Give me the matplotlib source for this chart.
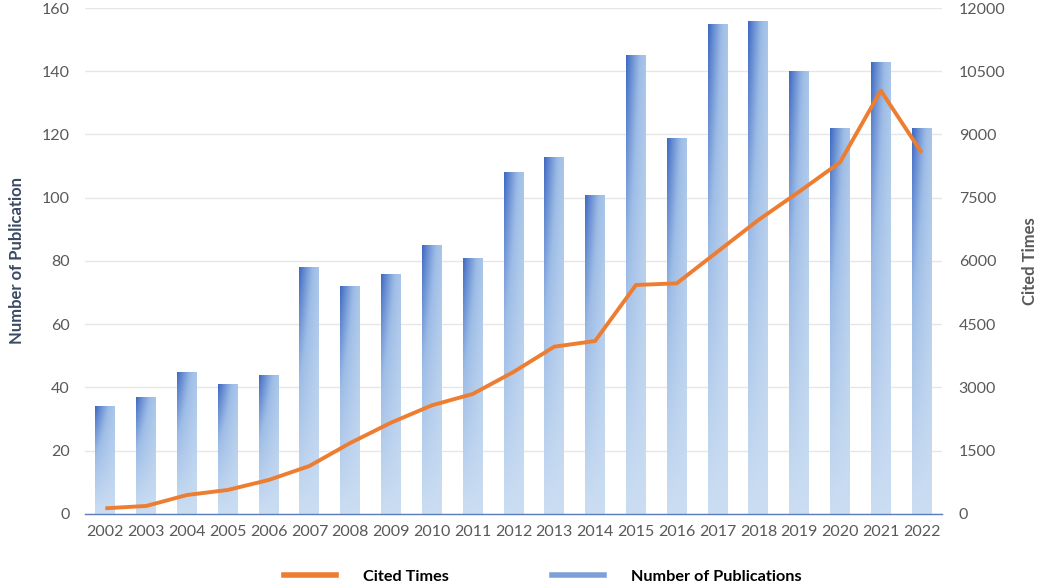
import numpy as np
import matplotlib.pyplot as plt
from matplotlib.lines import Line2D
from matplotlib.colors import LinearSegmentedColormap

plt.rcParams['font.family'] = ['Lato', 'DejaVu Sans']

# Daten
years = [str(y) for y in range(2002, 2023)]
publications = [34, 37, 45, 41, 44, 78, 72, 76, 85, 81, 108, 113, 101,
                145, 119, 155, 156, 140, 122, 143, 122]
cited = [135, 190, 450, 570, 806, 1138, 1684, 2166, 2577, 2846, 3368, 3968,
         4103, 5431, 5470, 6221, 6972, 7644, 8340, 10040, 8570]

left_ticks = list(range(0, 161, 20))
right_ticks = list(range(0, 12001, 1500))

fig = plt.figure(figsize=(10.4, 5.84), dpi=100)
ax = fig.add_axes([0.0817, 0.1199, 0.8241, 0.8664])
ax2 = ax.twinx()

x = np.arange(len(years))
bars = ax.bar(x, publications, width=0.49, color='none', edgecolor='none', zorder=2)

# Farbverlauf fuer jeden Balken (oben links dunkel, unten hell)
cmap = LinearSegmentedColormap.from_list('blu', ['#CADDF2', '#9DBCE6', '#3D68C2'])
nx, ny = 40, 200
xf = np.linspace(0, 1, nx)[None, :]
yf = np.linspace(1, 0, ny)[:, None]
grad = yf ** 1.1 * (0.38 + 0.62 * (1 - xf) ** 1.3)
for b in bars:
    x0, w, h = b.get_x(), b.get_width(), b.get_height()
    im = ax.imshow(grad, cmap=cmap, vmin=0, vmax=1, aspect='auto',
                   extent=[x0, x0 + w, 0, h], zorder=2, interpolation='bilinear')
    im.set_clip_path(b)

ax.set_xlim(-0.5, len(years) - 0.5)
ax.set_ylim(0, 160)
ax.set_yticks(left_ticks)
ax.set_xticks(x)
ax.set_xticklabels(years)
ax.grid(axis='y', color='#E6E6E6', linewidth=1, zorder=0)
ax.set_axisbelow(True)

ax2.plot(x, cited, color='#ED7D31', linewidth=2.8, zorder=3, solid_capstyle='butt')
ax2.set_ylim(0, 12000)
ax2.set_yticks(right_ticks)

for a in (ax, ax2):
    for s in ['top', 'left', 'right', 'bottom']:
        a.spines[s].set_visible(False)
ax.spines['bottom'].set_visible(True)
ax.spines['bottom'].set_color('#5B7DB8')
ax.spines['bottom'].set_linewidth(1)

ax.tick_params(axis='both', length=0, labelsize=11.5, labelcolor='#595959')
ax.tick_params(axis='y', pad=11)
ax.tick_params(axis='x', pad=8)
ax2.tick_params(axis='y', length=0, labelsize=11.5, labelcolor='#595959', pad=12)

ax.set_ylabel('Number of Publication', fontsize=12, fontweight='bold',
              color='#3B4A63', labelpad=12)
ax2.set_ylabel('Cited Times', fontsize=12, fontweight='bold',
               color='#595959', labelpad=12)

handles = [Line2D([0], [0], color='#ED7D31', linewidth=4),
           Line2D([0], [0], color='#7DA0D8', linewidth=4)]
fig.legend(handles, ['Cited Times', 'Number of Publications'], loc='lower center',
           bbox_to_anchor=(0.522, -0.025), ncol=2, frameon=False,
           handlelength=3.2, handletextpad=1.7, columnspacing=6.3,
           prop={'weight': 'bold', 'size': 11.7})

fig.savefig('out.png', dpi=100)
